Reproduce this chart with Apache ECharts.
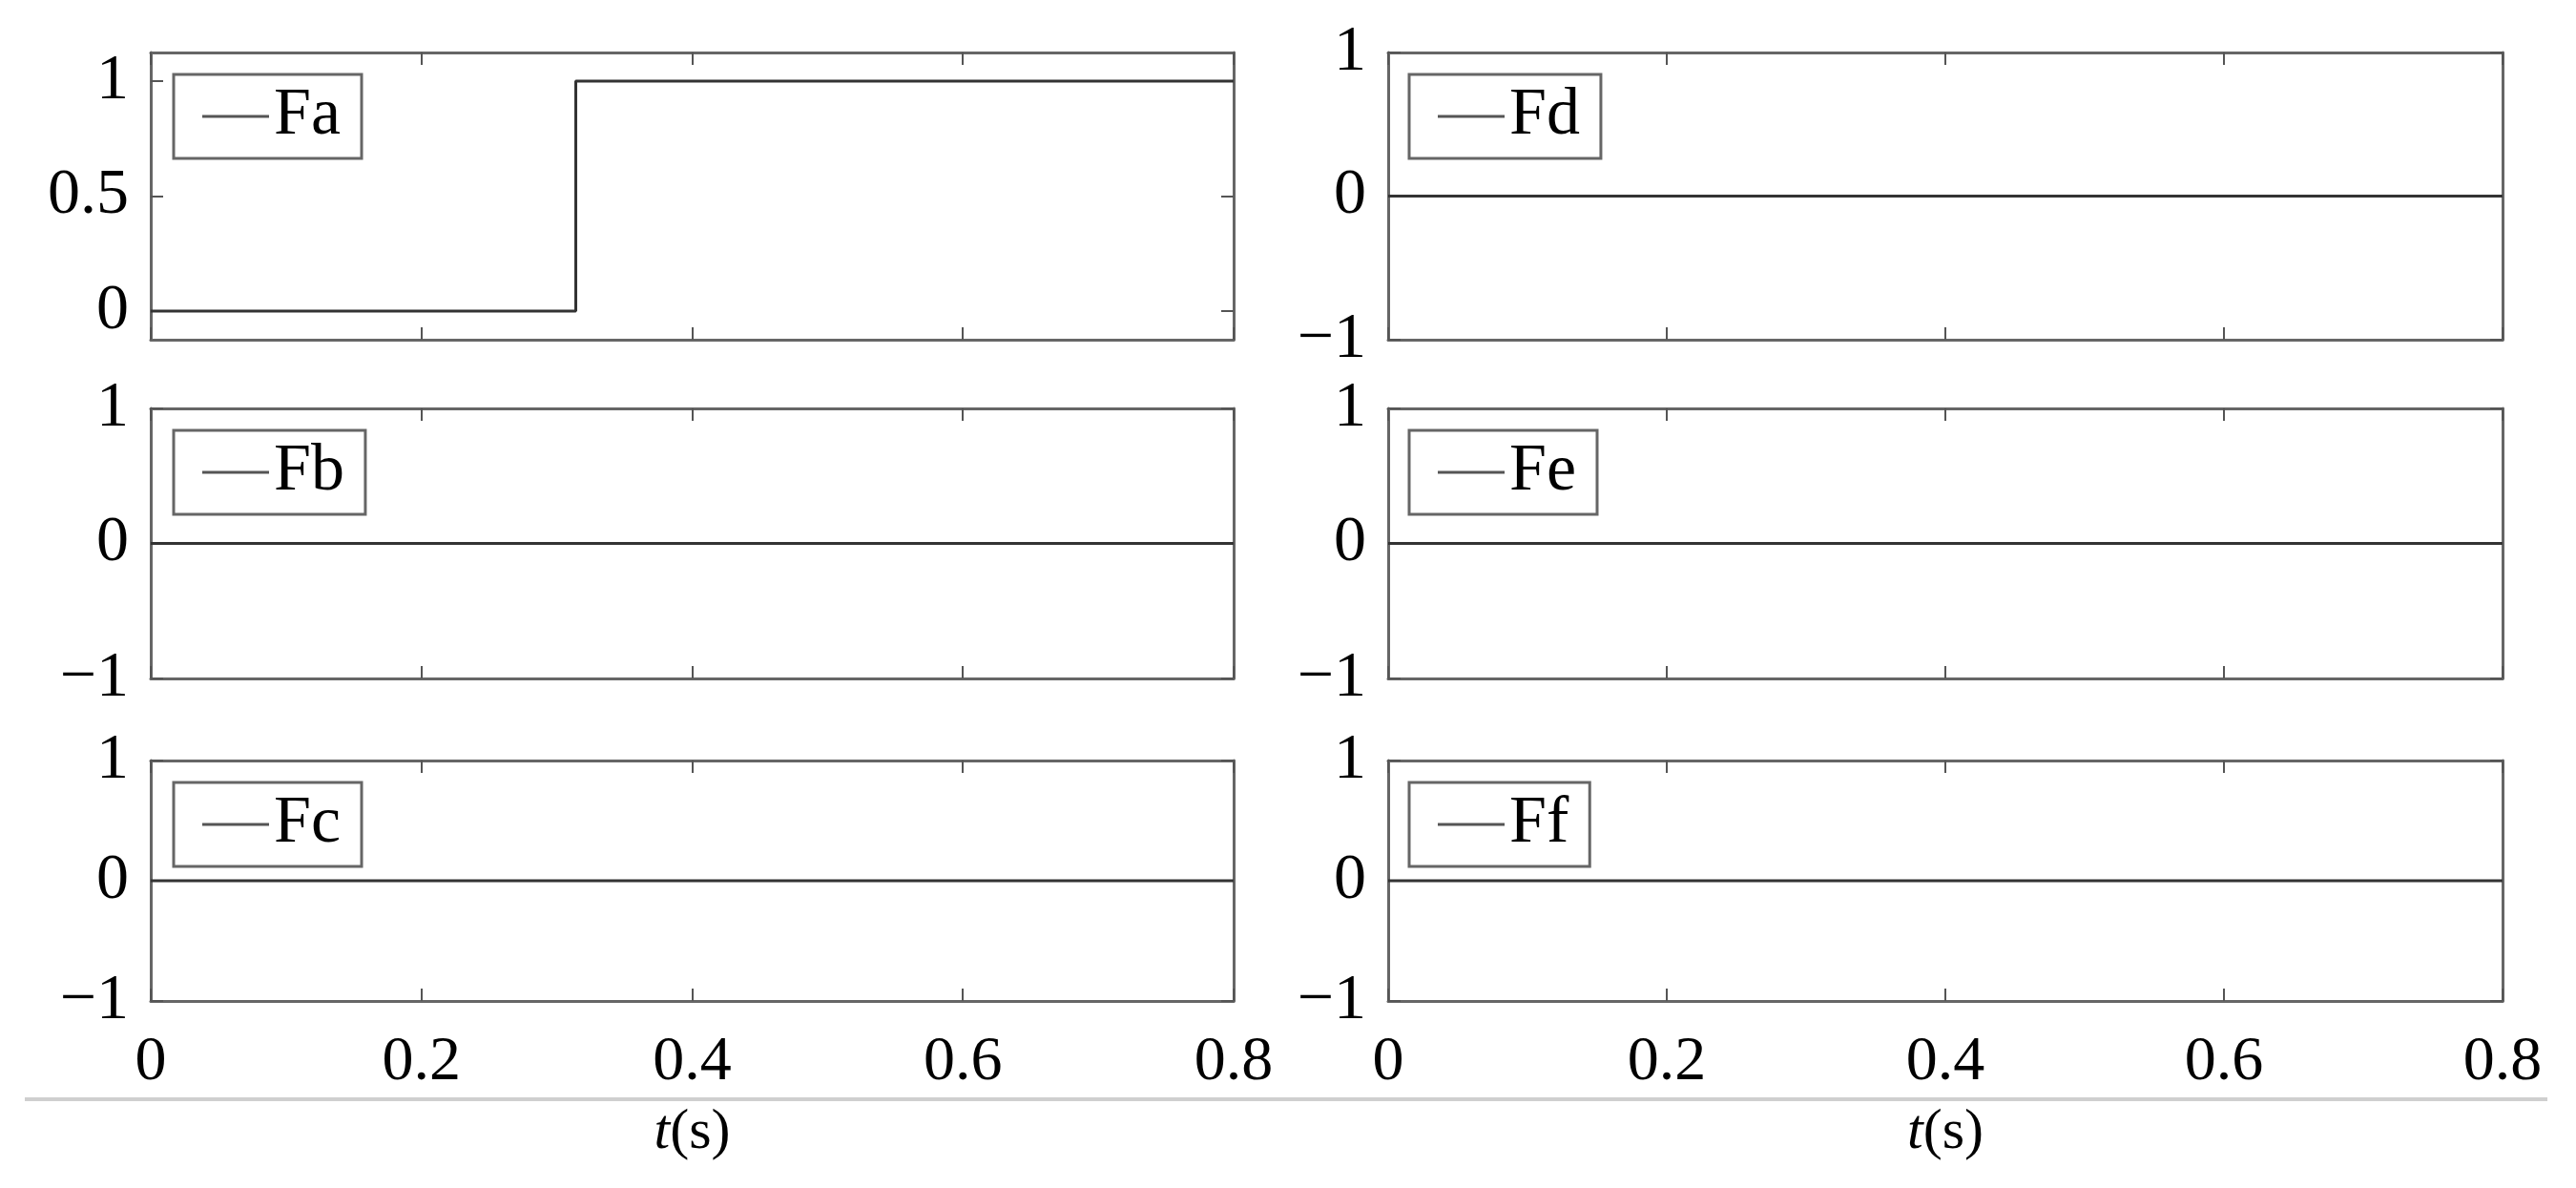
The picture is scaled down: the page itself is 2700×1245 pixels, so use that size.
<!DOCTYPE html>
<html>
<head>
<meta charset="utf-8">
<script src="https://cdn.jsdelivr.net/npm/echarts@6/dist/echarts.min.js"></script>
<style>
  html, body { margin: 0; padding: 0; background: #fff; }
  #main { width: 2700px; height: 1245px; }
</style>
</head>
<body>
<div id="main"></div>
<script>
// sample times (s) and fault signals
var tPoints = [0, 0.314, 0.8];
var seriesNames = ['Fa', 'Fb', 'Fc', 'Fd', 'Fe', 'Ff'];
var faValues = [0, 1, 1];
var fbValues = [0, 0, 0];
var fcValues = [0, 0, 0];
var fdValues = [0, 0, 0];
var feValues = [0, 0, 0];
var ffValues = [0, 0, 0];

var xTicks = [0, 0.2, 0.4, 0.6, 0.8];
var faTicks = [0, 0.5, 1];
var unitTicks = [-1, 0, 1];

var allValues = [faValues, fbValues, fcValues, fdValues, feValues, ffValues];

var myChart = echarts.init(document.getElementById('main'));

var FONT = 'Liberation Serif';

// panel boxes: left column a,b,c then right column d,e,f
var cols = [{ left: 158, width: 1135, legendLeft: 182 }, { left: 1455, width: 1168, legendLeft: 1477 }];
var rows = [{ top: 55, height: 301 }, { top: 428, height: 283 }, { top: 797, height: 252 }];

var grids = [], xAxes = [], yAxes = [], legends = [], series = [];

function fmtMinus(v) {
    return String(v).replace('-', '\u2212');
}

for (var i = 0; i < 6; i++) {
    var c = cols[Math.floor(i / 3)];
    var r = rows[i % 3];
    var isBottom = (i % 3) === 2;
    var isFa = i === 0;
    var yTicks = isFa ? faTicks : unitTicks;

    grids.push({
        left: c.left, top: r.top, width: c.width, height: r.height,
        containLabel: false, outerBoundsMode: 'none'
    });

    var axisLine = { show: true, onZero: false, lineStyle: { color: '#666', width: 3 } };
    var tick = { show: true, inside: true, length: 13, lineStyle: { color: '#555', width: 2 } };

    xAxes.push({
        type: 'value', gridIndex: i, position: 'bottom',
        min: 0, max: 0.8, interval: 0.2,
        axisLine: axisLine, axisTick: tick, splitLine: { show: false },
        axisLabel: {
            show: isBottom, margin: 32, fontSize: 66, color: '#000', fontFamily: FONT
        },
        name: isBottom ? '{i|t}(s)' : '',
        nameLocation: 'middle', nameGap: 108,
        nameTextStyle: {
            fontSize: 60, color: '#000', fontFamily: FONT,
            rich: { i: { fontSize: 60, fontStyle: 'italic', fontFamily: FONT, color: '#000' } }
        }
    });
    xAxes.push({
        type: 'value', gridIndex: i, position: 'top',
        min: 0, max: 0.8, interval: 0.2,
        axisLine: axisLine, axisTick: tick, splitLine: { show: false },
        axisLabel: { show: false }
    });

    var yBase = {
        type: 'value', gridIndex: i,
        min: isFa ? -0.125 : -1, max: isFa ? 1.125 : 1,
        axisLine: axisLine, splitLine: { show: false },
        axisTick: Object.assign({ customValues: yTicks }, tick)
    };
    yAxes.push(Object.assign({}, yBase, {
        position: 'left',
        axisLabel: {
            show: true, customValues: yTicks, formatter: fmtMinus,
            margin: 23, fontSize: 68, color: '#000', fontFamily: FONT
        }
    }));
    yAxes.push(Object.assign({}, yBase, {
        position: 'right',
        axisLabel: { show: false }
    }));

    legends.push({
        data: [seriesNames[i]],
        left: c.legendLeft, top: r.top + 23,
        orient: 'horizontal',
        icon: 'rect', itemWidth: 70, itemHeight: 3,
        itemStyle: { color: '#555', borderWidth: 0 },
        padding: [9, 22, 9, 30],
        borderColor: '#666', borderWidth: 3,
        backgroundColor: '#fff',
        selectedMode: false,
        textStyle: { fontSize: 70, color: '#000', fontFamily: FONT }
    });

    var pts = [];
    for (var k = 0; k < tPoints.length; k++) {
        pts.push([tPoints[k], allValues[i][k]]);
    }
    series.push({
        name: seriesNames[i],
        type: 'line',
        xAxisIndex: 2 * i, yAxisIndex: 2 * i,
        step: 'end',
        symbol: 'none', showSymbol: false,
        itemStyle: { color: '#444' },
        lineStyle: { color: '#333', width: 3 },
        data: pts,
        z: 3
    });
}

option = {
    backgroundColor: '#fff',
    animation: false,
    grid: grids,
    xAxis: xAxes,
    yAxis: yAxes,
    legend: legends,
    series: series,
    graphic: [
        {
            type: 'line',
            shape: { x1: 26, y1: 1152, x2: 2670, y2: 1152 },
            style: { stroke: '#cfcfcf', lineWidth: 4 }
        }
    ]
};

myChart.setOption(option);
</script>
</body>
</html>
